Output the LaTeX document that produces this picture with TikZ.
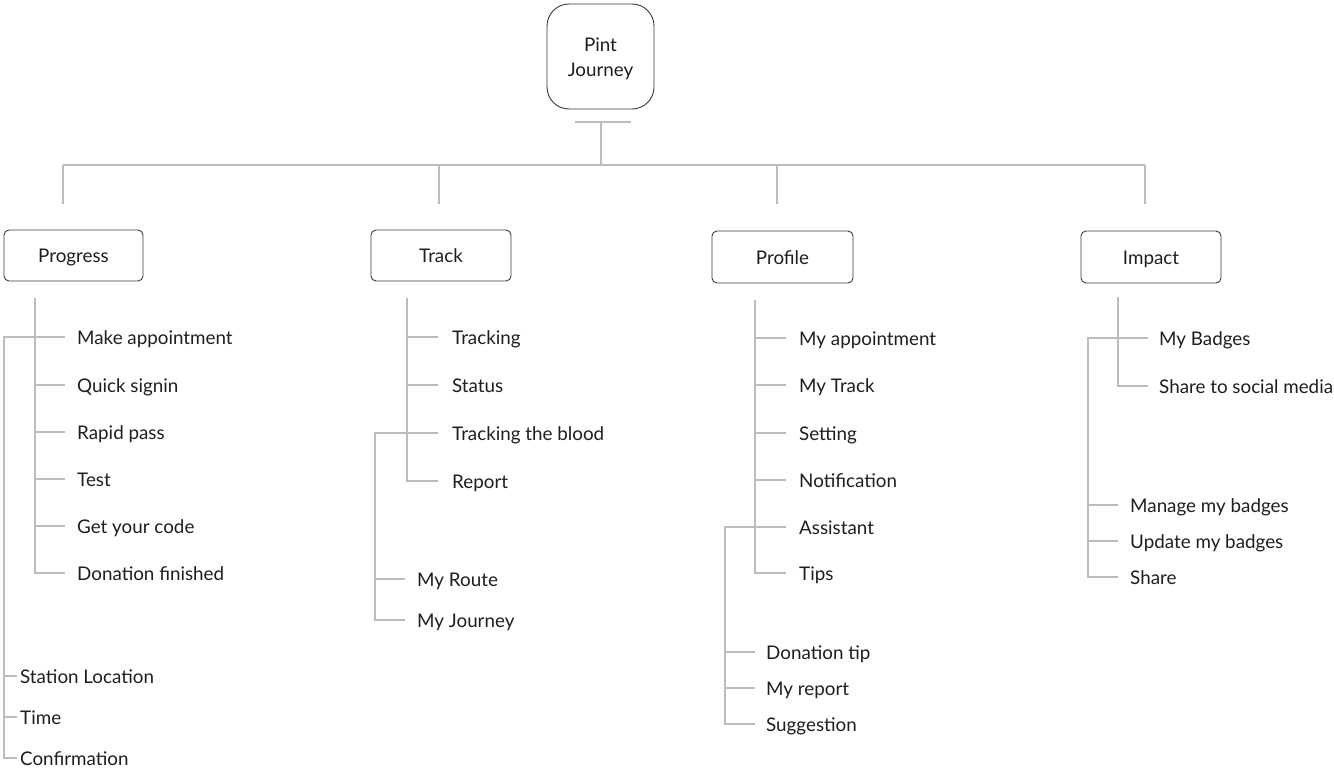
\documentclass[tikz,border=0pt]{standalone}
\usepackage{fontspec}
\setmainfont{Lato}
\definecolor{ln}{HTML}{BDBDBD}
\definecolor{bx}{HTML}{3A3A3A}
\definecolor{tx}{HTML}{1E1E1E}
\begin{document}
\begin{tikzpicture}[x=1pt,y=-1pt,
  conn/.style={draw=ln,line width=1.3pt},
  item/.style={anchor=west,inner sep=0pt,text height=14.5pt,text depth=0pt,font=\fontsize{18.8}{22}\selectfont,text=tx},
  catbox/.style={draw=bx,line width=0.9pt,rounded corners=5pt,minimum width=140pt,minimum height=51pt,text height=14pt,text depth=0pt,font=\fontsize{18.8}{22}\selectfont,text=tx},
  rootbox/.style={draw=bx,line width=0.9pt,rounded corners=22pt,minimum width=107pt,minimum height=105pt,font=\fontsize{18.8}{25}\selectfont,text=tx}]
\useasboundingbox (0,0) rectangle (1334,768);

% root
\node[rootbox] (root) at (600.5,56.5) {\raisebox{-2.5pt}[\height][\depth]{\begin{tabular}{@{}c@{}}Pint\\Journey\end{tabular}}};
\coordinate (rbl) at (575,122);
\coordinate (rbr) at (631,122);
\coordinate (rb) at (601,122);
\coordinate (bus) at (601,165);
\coordinate (busL) at (63,165);
\coordinate (busR) at (1145,165);
\coordinate (d1) at (63,204);
\coordinate (d2) at (439,204);
\coordinate (d3) at (777,204);
\coordinate (d4) at (1145,204);
\draw[conn] (rbl) -- (rbr);
\draw[conn] (rb) -- (bus);
\draw[conn] (busL) -- (busR);
\foreach \d in {d1,d2,d3,d4} \draw[conn] (\d |- bus) -- (\d);

% category boxes
\node[catbox,minimum width=139pt] (progress) at (73.5,255.5) {Progress};
\node[catbox] (track) at (441,255.5) {Track};
\node[catbox,minimum width=141pt,minimum height=52pt] (profile) at (782.5,257) {Profile};
\node[catbox,minimum height=52pt] (impact) at (1151,257) {Impact};

% ---------- Progress
\node[item] (p1) at (77,337) {Make appointment};
\node[item] (p2) at (77,385) {Quick signin};
\node[item] (p3) at (77,432) {Rapid pass};
\node[item] (p4) at (77,479) {Test};
\node[item] (p5) at (77,526) {Get your code};
\node[item] (p6) at (77,573) {Donation finished};
\coordinate (ps) at (35,298);
\draw[conn] (ps) |- ([xshift=-12pt]p6.west);
\foreach \n in {p1,p2,p3,p4,p5} \draw[conn] (ps |- \n.west) -- ([xshift=-12pt]\n.west);
\node[item] (s1) at (20,676) {Station Location};
\node[item] (s2) at (20,717) {Time};
\node[item] (s3) at (20,758) {Confirmation};
\coordinate (pq) at (4,337);
\draw[conn] (ps |- p1.west) -- (pq) |- ([xshift=-3pt]s3.west);
\foreach \n in {s1,s2} \draw[conn] (pq |- \n.west) -- ([xshift=-3pt]\n.west);

% ---------- Track
\node[item] (t1) at (452,337) {Tracking};
\node[item] (t2) at (452,385) {Status};
\node[item] (t3) at (452,433) {Tracking the blood};
\node[item] (t4) at (452,481) {Report};
\coordinate (ts) at (407,298);
\draw[conn] (ts) |- ([xshift=-14pt]t4.west);
\foreach \n in {t1,t2,t3} \draw[conn] (ts |- \n.west) -- ([xshift=-14pt]\n.west);
\node[item] (r1) at (417,579) {My Route};
\node[item] (r2) at (417,620) {My Journey};
\coordinate (tq) at (375,433);
\draw[conn] (ts |- t3.west) -- (tq) |- ([xshift=-12pt]r2.west);
\draw[conn] (tq |- r1.west) -- ([xshift=-12pt]r1.west);

% ---------- Profile
\node[item] (f1) at (799,338) {My appointment};
\node[item] (f2) at (799,385) {My Track};
\node[item] (f3) at (799,433) {Setting};
\node[item] (f4) at (799,480) {Notification};
\node[item] (f5) at (799,527) {Assistant};
\node[item] (f6) at (799,573) {Tips};
\coordinate (fs) at (755,300);
\draw[conn] (fs) |- ([xshift=-13pt]f6.west);
\foreach \n in {f1,f2,f3,f4,f5} \draw[conn] (fs |- \n.west) -- ([xshift=-13pt]\n.west);
\node[item] (g1) at (766,652) {Donation tip};
\node[item] (g2) at (766,688) {My report};
\node[item] (g3) at (766,724) {Suggestion};
\coordinate (fq) at (725,527);
\draw[conn] (fs |- f5.west) -- (fq) |- ([xshift=-11pt]g3.west);
\foreach \n in {g1,g2} \draw[conn] (fq |- \n.west) -- ([xshift=-11pt]\n.west);

% ---------- Impact
\node[item] (i1) at (1159,338) {My Badges};
\node[item] (i2) at (1159,386) {Share to social media};
\coordinate (is) at (1118,297);
\draw[conn] (is) |- ([xshift=-11pt]i2.west);
\draw[conn] (is |- i1.west) -- ([xshift=-11pt]i1.west);
\node[item] (j1) at (1130,505) {Manage my badges};
\node[item] (j2) at (1130,541) {Update my badges};
\node[item] (j3) at (1130,577) {Share};
\coordinate (iq) at (1088,338);
\draw[conn] (is |- i1.west) -- (iq) |- ([xshift=-12pt]j3.west);
\foreach \n in {j1,j2} \draw[conn] (iq |- \n.west) -- ([xshift=-12pt]\n.west);
\end{tikzpicture}
\end{document}
